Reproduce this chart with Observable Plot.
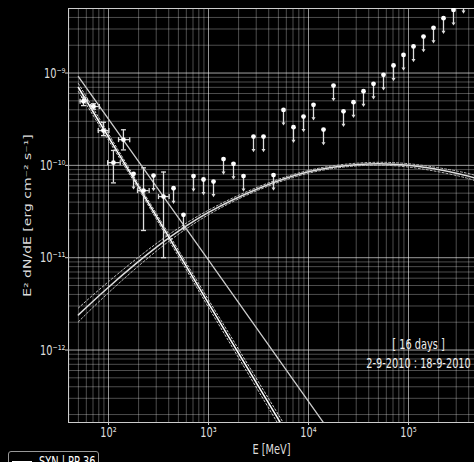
<!DOCTYPE html>
<html>
<head>
<meta charset="utf-8">
<script src="https://cdn.jsdelivr.net/npm/d3@7"></script>
<script src="https://cdn.jsdelivr.net/npm/@observablehq/plot@0.6"></script>
<style>
  html, body { margin: 0; padding: 0; background: #000; overflow: hidden; }
  #wrap { position: relative; width: 474px; height: 462px; }
  #legend {
    position: absolute; left: 8px; top: 451px; width: 89px; height: 26px;
    border: 1px solid #999; border-radius: 3px; background: #000;
    font-family: "DejaVu Sans", sans-serif; font-size: 14px; color: #fff;
  }
  #legend .swatch { position: absolute; left: 3px; top: 9px; width: 20px; height: 2px; background: #fff; }
  #legend .label { position: absolute; left: 30px; top: 1px; white-space: nowrap;
    transform: scaleX(0.7); transform-origin: left center; }
</style>
</head>
<body>
<div id="wrap"></div>
<script>
// ---- Measured SED points (E in MeV, E^2 dN/dE in erg cm^-2 s^-1) ----
const detE    = [56.2, 70.8, 89.1, 112, 141, 224, 355];
const detEmin = [52, 66, 79, 98, 126, 195, 316];
const detEmax = [61.7, 81, 101, 131, 163, 255, 404];
const detF    = [4.95e-10, 4.34e-10, 2.38e-10, 1.07e-10, 1.90e-10, 5.33e-11, 4.59e-11];
const detFmin = [4.44e-10, 4.05e-10, 2.10e-10, 6.46e-11, 1.47e-10, 1.97e-11, 1.0e-11];
const detFmax = [5.47e-10, 4.65e-10, 2.93e-10, 1.45e-10, 2.43e-10, 9.4e-11, 8.47e-11];

// ---- Upper limits ----
const ulE = [178, 282, 447, 562, 708, 891, 1122, 1413, 1778, 2239, 2818, 3548, 4467,
             5623, 7079, 8913, 11220, 14125, 17783, 22387, 28184, 35481, 44668,
             56234, 70795, 89125, 112202, 141254, 177828, 223872, 281838, 354813];
const ulF = [8.09e-11, 7.76e-11, 5.65e-11, 2.91e-11, 7.66e-11, 7.03e-11, 6.68e-11,
             1.17e-10, 1.04e-10, 7.66e-11, 2.05e-10, 2.05e-10, 7.85e-11,
             3.99e-10, 2.59e-10, 3.38e-10, 4.53e-10, 2.44e-10, 7.32e-10, 3.85e-10,
             4.83e-10, 6.35e-10, 7.64e-10, 9.57e-10, 1.21e-9, 1.57e-9, 1.94e-9,
             2.48e-9, 3.09e-9, 3.93e-9, 4.83e-9, 6.5e-9];

// ---- Synchrotron component (steep power law with butterfly) ----
const synE   = [50, 200, 1000, 10000];
const synF   = [6.97e-10, 5.9e-11, 3.2e-12, 5.1e-14];
const synFup = [7.7e-10, 6.25e-11, 3.5e-12, 5.8e-14];
const synFlo = [6.3e-10, 5.55e-11, 2.9e-12, 4.45e-14];

// ---- Second power law ----
const plE = [50, 1000, 20000];
const plF = [9.16e-10, 9.4e-12, 9.6e-14];

// ---- pp component (curved, with band) ----
const ppE   = [50, 100, 316, 1000, 3160, 10000, 31600, 100000, 316000, 500000];
const ppF   = [2.40e-12, 4.79e-12, 1.35e-11, 3.09e-11, 5.62e-11, 8.51e-11, 1.023e-10, 1.0e-10, 8.13e-11, 7.08e-11];
const ppFup = [2.85e-12, 5.5e-12, 1.48e-11, 3.27e-11, 5.86e-11, 8.81e-11, 1.059e-10, 1.042e-10, 8.61e-11, 7.59e-11];
const ppFlo = [2.02e-12, 4.17e-12, 1.23e-11, 2.92e-11, 5.40e-11, 8.22e-11, 9.89e-11, 9.59e-11, 7.67e-11, 6.61e-11];

// axis tick values
const xTicks = [1e2, 1e3, 1e4, 1e5];
const yTicks = [1e-12, 1e-11, 1e-10, 1e-9];

const xLabel = "E [MeV]";
const yLabel = "E² dN/dE [erg cm⁻² s⁻¹]";
const notes = ["[ 16 days ]", "2-9-2010 : 18-9-2010"];

// ---- build tables ----
const det = detE.map((E, i) => ({E, Emin: detEmin[i], Emax: detEmax[i], F: detF[i], Fmin: detFmin[i], Fmax: detFmax[i]}));
const ul = ulE.map((E, i) => ({E, F: ulF[i]}));
const syn = synE.map((E, i) => ({E, F: synF[i], up: synFup[i], lo: synFlo[i]}));
const pl = plE.map((E, i) => ({E, F: plF[i]}));
const pp = ppE.map((E, i) => ({E, F: ppF[i], up: ppFup[i], lo: ppFlo[i]}));

const xDomain = [Math.pow(10, 1.6), Math.pow(10, 5.66)];
const yDomain = [Math.pow(10, -12.785), Math.pow(10, -8.301)];

// grid lines at 1..9 x 10^n, kept inside the domain
function logGrid(lo, hi, dom) {
  const out = [];
  for (let n = lo; n <= hi; n++) for (let k = 1; k <= 9; k++) {
    const v = k * Math.pow(10, n);
    if (v > dom[0] && v < dom[1]) out.push(v);
  }
  return out;
}
const xMinor = logGrid(1, 5, xDomain);
const yMinor = logGrid(-13, -9, yDomain);

const supMap = {"-": "⁻", "0": "⁰", "1": "¹", "2": "²", "3": "³", "4": "⁴", "5": "⁵", "6": "⁶", "7": "⁷", "8": "⁸", "9": "⁹"};
const pow10 = d => "10" + String(Math.round(Math.log10(d))).split("").map(c => supMap[c]).join("");

// symbols for caps and arrowheads
const hCap = {draw(ctx, size) { const r = Math.sqrt(size / Math.PI); ctx.moveTo(-r, 0); ctx.lineTo(r, 0); }};
const vCap = {draw(ctx, size) { const r = Math.sqrt(size / Math.PI); ctx.moveTo(0, -r); ctx.lineTo(0, r); }};
const downTri = {draw(ctx, size) { const r = Math.sqrt(size / Math.PI); ctx.moveTo(-r, -r * 0.6); ctx.lineTo(r, -r * 0.6); ctx.lineTo(0, r); ctx.closePath(); }};

const ulDrop = 0.71; // arrow length as a fraction of the limit
const squeeze = 0.7; // horizontal squeeze applied to all lettering

const chart = Plot.plot({
  width: 474,
  height: 462,
  marginLeft: 68,
  marginRight: 0,
  marginTop: 8,
  marginBottom: 40,
  style: {background: "#000", color: "#ddd", fontFamily: "DejaVu Sans, sans-serif", fontSize: "14px"},
  x: {type: "log", domain: xDomain},
  y: {type: "log", domain: yDomain},
  marks: [
    Plot.gridX(xMinor, {stroke: "#fff", strokeOpacity: 0.3, clip: true}),
    Plot.gridY(yMinor, {stroke: "#fff", strokeOpacity: 0.3, clip: true}),
    Plot.gridX(xTicks, {stroke: "#fff", strokeOpacity: 0.4, clip: true}),
    Plot.gridY(yTicks, {stroke: "#fff", strokeOpacity: 0.4, clip: true}),
    Plot.frame({anchor: "top", stroke: "#ccc"}),
    Plot.frame({anchor: "left", stroke: "#ccc"}),
    Plot.frame({anchor: "bottom", stroke: "#ccc"}),
    Plot.axisX(xTicks, {tickFormat: pow10, tickSize: 3, tickPadding: 2, fill: "#ddd", stroke: "#ccc", fontSize: 14,
      label: xLabel, labelAnchor: "center", labelArrow: "none", labelOffset: 31}),
    Plot.axisY(yTicks, {tickFormat: pow10, tickSize: 3, tickPadding: 0, fill: "#ddd", stroke: "#ccc", fontSize: 14,
      label: yLabel, labelAnchor: "center", labelArrow: "none", labelOffset: 44}),

    // pp band
    Plot.line(pp, {x: "E", y: "up", curve: "natural", stroke: "#bbb", strokeWidth: 1, strokeDasharray: "2,2", clip: true}),
    Plot.line(pp, {x: "E", y: "lo", curve: "natural", stroke: "#bbb", strokeWidth: 1, strokeDasharray: "2,2", clip: true}),
    Plot.line(pp, {x: "E", y: "F", curve: "natural", stroke: "#ddd", strokeWidth: 1.5, clip: true}),

    // synchrotron butterfly
    Plot.line(syn, {x: "E", y: "up", stroke: "#ccc", strokeWidth: 1, strokeDasharray: "2,2", clip: true}),
    Plot.line(syn, {x: "E", y: "lo", stroke: "#ccc", strokeWidth: 1, strokeDasharray: "2,2", clip: true}),
    Plot.line(syn, {x: "E", y: "F", stroke: "#fff", strokeWidth: 1.5, clip: true}),

    // second power law
    Plot.line(pl, {x: "E", y: "F", stroke: "#ccc", strokeWidth: 1.3, clip: true}),

    // detections with errors
    Plot.ruleX(det, {x: "E", y1: "Fmin", y2: "Fmax", stroke: "#ddd", strokeWidth: 1.3, clip: true}),
    Plot.ruleY(det, {y: "F", x1: "Emin", x2: "Emax", stroke: "#ddd", strokeWidth: 1.3, clip: true}),
    Plot.dot(det, {x: "E", y: "Fmin", symbol: hCap, r: 2.5, stroke: "#ddd", strokeWidth: 1.3, clip: true}),
    Plot.dot(det, {x: "E", y: "Fmax", symbol: hCap, r: 2.5, stroke: "#ddd", strokeWidth: 1.3, clip: true}),
    Plot.dot(det, {x: "Emin", y: "F", symbol: vCap, r: 2.5, stroke: "#ddd", strokeWidth: 1.3, clip: true}),
    Plot.dot(det, {x: "Emax", y: "F", symbol: vCap, r: 2.5, stroke: "#ddd", strokeWidth: 1.3, clip: true}),
    Plot.dot(det, {x: "E", y: "F", r: 2.4, fill: "#fff", stroke: null, clip: true}),

    // upper limits
    Plot.ruleX(ul, {x: "E", y1: "F", y2: d => d.F * ulDrop, stroke: "#ddd", strokeWidth: 1.3, clip: true}),
    Plot.dot(ul, {x: "E", y: d => d.F * ulDrop, symbol: downTri, r: 2, fill: "#ddd", stroke: null, clip: true}),
    Plot.dot(ul, {x: "E", y: "F", r: 2.4, fill: "#fff", stroke: null, clip: true}),

    // period annotation
    Plot.text([notes[0]], {text: d => d, frameAnchor: "bottom-right", dx: -56, dy: -74, textAnchor: "middle", fill: "#eee", fontSize: 14}),
    Plot.text([notes[1]], {text: d => d, frameAnchor: "bottom-right", dx: -56, dy: -55, textAnchor: "middle", fill: "#eee", fontSize: 14})
  ]
});

const wrap = document.getElementById("wrap");
wrap.appendChild(chart);

// narrow lettering: texts placed by a translate() get a scale after it,
// the rotated axis label is squeezed across its height
d3.select(chart).selectAll("text").each(function() {
  const t = this.getAttribute("transform") || "";
  if (this.textContent === yLabel) {
    this.setAttribute("transform", t + " scale(1," + squeeze + ")");
  } else if (/translate/.test(t) && !this.hasAttribute("x")) {
    this.setAttribute("transform", t + " scale(" + squeeze + ",1)");
  } else if (!this.querySelector("tspan")) {
    const len = this.getComputedTextLength();
    this.setAttribute("textLength", (len * squeeze).toFixed(1));
    this.setAttribute("lengthAdjust", "spacingAndGlyphs");
  }
});

const legend = document.createElement("div");
legend.id = "legend";
legend.innerHTML = '<div class="swatch"></div><div class="label">SYN | PP 36</div>';
wrap.appendChild(legend);
</script>
</body>
</html>
